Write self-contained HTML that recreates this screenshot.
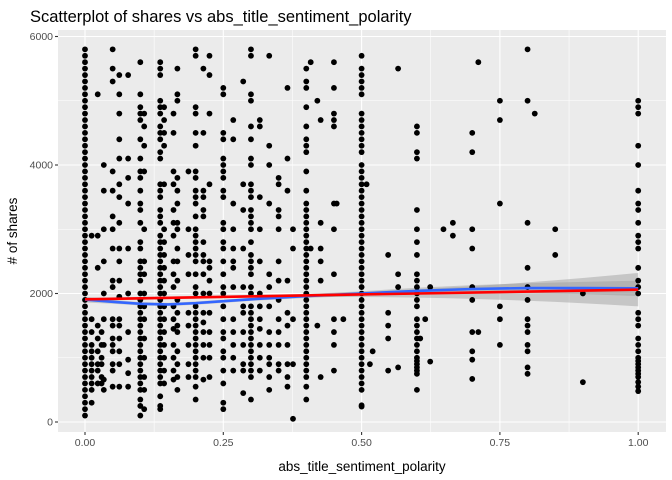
<!DOCTYPE html>
<html><head><meta charset="utf-8"><style>
body{margin:0;background:#fff;width:672px;height:480px;overflow:hidden}
svg{display:block;font-family:"Liberation Sans",Arial,sans-serif}
</style></head><body>
<svg id="chart" width="672" height="480">
<text x="30" y="22" font-size="16.5" fill="#000">Scatterplot of shares vs abs_title_sentiment_polarity</text>
<rect x="58" y="30" width="608" height="402" fill="#ebebeb"/>
<g id="grid"></g>
<g id="ribbons"></g>
<g id="points"></g>
<g id="lines"></g>
<g id="axes"></g>
<text x="362" y="471" font-size="13.5" text-anchor="middle" fill="#000">abs_title_sentiment_polarity</text>
<text transform="translate(17,231) rotate(-90)" font-size="13.5" text-anchor="middle" fill="#000"># of shares</text>
</svg>
<script>
const xTicks=[0,0.25,0.5,0.75,1];
const xTickLabels=["0.00","0.25","0.50","0.75","1.00"];
const yTicks=[0,2000,4000,6000];
const yTickLabels=["0","2000","4000","6000"];
const polarityCols=[0,0.012,0.023,0.03,0.034,0.05,0.062,0.078,0.1,0.107,0.136,0.143,0.16,0.167,0.187,0.2,0.214,0.225,0.25,0.268,0.286,0.3,0.316,0.333,0.35,0.366,0.376,0.4,0.408,0.42,0.426,0.45,0.455,0.467,0.5,0.509,0.515,0.52,0.548,0.566,0.6,0.606,0.615,0.624,0.648,0.665,0.7,0.711,0.75,0.8,0.813,0.85,0.9,1.0];
const sharesHundreds=[
[1,2,3,4,5,6,7,8,9,10,11,12,13,14,15,16,17,18,19,20,21,22,23,24,25,26,27,28,29,30,31,32,33,34,35,36,37,38,39,40,41,42,43,44,45,46,47,48,49,50,51,52,53,54,55,56,57,58],
[3,5,6,7,8,9,10,11,12,14,16,29],
[51,29,24,15,13,11,9,8,6],
[6,7,9,10,12,14],
[40,36,30,25,20,16,12,6.6,5],
[58,55,53,39,36,32,30,27,22,21,16,15,13,12,11,9,8,5.5],
[54,51,48,44,41,37,35,31,27,25,22,19.5,16,15,13,11,9,5.5],
[54,41,38,34,27,20,14,9.7,7.6,5.5],
[56,51,49,48,47,44,41,39,38,36,34,33,31,28,27,25,24,23,22,20,19,18,17,16,15,14,13,12,11,10,9,8,7,6,5,3.5,2.5,1],
[48,46,43,39,30,25,23,20,18,16,13,10,7,5,2],
[56,55,54,50,49,48,46,45,44,42,41,37,36,35,33,32,31,29,28,27,26,25,24,23,22,21,20,19,18,17,16,15,14,13,12,11,10,9,8,7,6,4,2.5,2],
[49,47,45,43,37,30,28,26,24,22,20,18,16,14,12,10,8,6],
[48,45,39,37,33,31,29,25,23,21,18,16,14.5,12,10,8,6.6],
[55,51,50,38,36,34,31,30,27,25,22,19,17,15,14,11,9,7,5],
[39,30,26,23,17,15,12,9,7],
[58,57,49,48,45,43,39,38,36,35,34,32,30,29,28,27,26,25,23,21,20,18,17,16,15,14,13,12,11,10,9,8,7,5.5,3.5],
[55,45,36,35,33,32,28,26,25,23,20,17,15.5,14,12,10,6.6],
[57,54,48,37,25,24,22,20,17,14,12,10,7],
[52,51,45,44,41,40,39,38,36,35,31,30,28,27,25,23,21,20,18,16,14,13,11,10,8,6,3,2],
[47,44,34,30,27,25,24,21,16,14,12,10,8],
[53,37,33,27,21,18,17,14,12,9,8,4.5],
[58,57,51,50,46,44,41,40,37,36,35,33,32,31,30,28,26,25,24,23,21,20,18,17,16,15,14,13,12,11,10,9,8,7,3.5],
[47,46,35,30,25,20,18,16,14.5,12,10,8],
[57,43,40,34,23,21,18,14,12,10,9,7,5],
[38,37,33,32,30,25,22,19,16,14,12,9,8],
[52,41,36,22,17,15,12,9,7,5.5],
[30,27,16,9,0.5],
[55,53,52,49,46,44,43,42,39,36,34,33,32,31,30,29,28,27,26,25,24,23,22,21,20,19,18,17,16,15,14,13,12,11,10,9,8,7,5.5,3.5],
[56,27],
[50,15],
[47,31,27,25,22,7],
[56,52,48,47,46,34,30,23,16,14,12,8],
[34],
[16],
[57,55,54,53,52,51,48,47,46,45,44,43,42,40,39,38,37,36,35,34,33,32,31,30,29,28,27,26,25,24,23,22,21,20,19,18,17,16,15,14,13,12,11,10,9,8,7,6,5,2.6,2.4],
[37],
[9],
[11],
[26,17,15,13,8],
[55,23,21,8.5],
[46,45,42,41,33,30,28,26,23,22,21,20,19,18,16,15,14,13,12,11,10,9.5,9,8.5,8,7.5,5],
[13],
[16],
[21,9.4],
[30],
[31,29],
[45,42,30,27,21,19,14,11,9.7,6.7],
[56,14],
[50,47,34,18,16,12],
[58,50,31,24,21,19,16,15,14,12,11,8.5,7.5],
[48],
[30,26],
[20,6.2],
[50,49,48,43,40,36,34,33,31,29,28,27,24,22,21,20,17,16,15,13,12,11,10,9.5,9,8.5,8,7.5,7,6.2,5.5,4.8]
];
const linearFit=[[0,1910],[1,2060]];
const loessX=[0,0.05,0.1,0.15,0.2,0.25,0.3,0.4,0.5,0.6,0.7,0.8,0.9,1];
const loessY=[1905,1870,1840,1830,1850,1880,1910,1960,2000,2040,2070,2085,2085,2080];
const loessSE=[45,30,25,25,25,25,25,30,35,50,60,75,95,120];
const linSE=[20,260];

const NS="http://www.w3.org/2000/svg";
const L=58,R=666,T=30,B=432;
const sx=v=>85+v*553.2;
const sy=v=>422-v*0.06425;
function mk(tag,attrs,parent){const e=document.createElementNS(NS,tag);for(const k in attrs)e.setAttribute(k,attrs[k]);parent.appendChild(e);return e;}
const grid=document.getElementById('grid');
for(let i=0;i<xTicks.length-1;i++){const m=(xTicks[i]+xTicks[i+1])/2;const g=mk('line',{x1:sx(m),x2:sx(m),y1:T,y2:B,stroke:'#fff','stroke-width':0.55},grid);}
for(let i=0;i<yTicks.length-1;i++){const m=(yTicks[i]+yTicks[i+1])/2;const g=mk('line',{x1:L,x2:R,y1:sy(m),y2:sy(m),stroke:'#fff','stroke-width':0.55},grid);}
const axes=document.getElementById('axes');
xTicks.forEach((t,i)=>{
 const g=mk('line',{x1:sx(t),x2:sx(t),y1:T,y2:B,stroke:'#fff','stroke-width':1.1},grid);
 
 
 const tk=mk('line',{x1:sx(t),x2:sx(t),y1:B,y2:B+3,stroke:'#333','stroke-width':1.1},axes);
 
 
 const tx=mk('text',{x:sx(t),y:B+14,'font-size':10.5,'text-anchor':'middle',fill:'#4d4d4d'},axes);
 tx.textContent=xTickLabels[i];
 
 
});
yTicks.forEach((t,i)=>{
 const g=mk('line',{x1:L,x2:R,y1:sy(t),y2:sy(t),stroke:'#fff','stroke-width':1.1},grid);
 
 
 const tk=mk('line',{x1:L-3,x2:L,y1:sy(t),y2:sy(t),stroke:'#333','stroke-width':1.1},axes);
 
 
 const tx=mk('text',{x:L-5,y:sy(t)+3.7,'font-size':10.5,'text-anchor':'end',fill:'#4d4d4d'},axes);
 tx.textContent=yTickLabels[i];
 
 
});
const pts=document.getElementById('points');
polarityCols.forEach((x,i)=>{
 sharesHundreds[i].forEach(h=>{
  const c=mk('circle',{cx:sx(x),cy:sy(h*100),r:2.9,fill:'#000'},pts);
  
  
 });
});
const rib=document.getElementById('ribbons');
const linAt=x=>linearFit[0][1]+(linearFit[1][1]-linearFit[0][1])*x;
let up=[],dn=[];
for(let k=0;k<=20;k++){const x=k/20;const se=linSE[0]+(linSE[1]-linSE[0])*Math.pow(Math.abs(x-0.3)/0.7,2)*(x>0.3?1:0.1);up.push(sx(x)+','+sy(linAt(x)+se));dn.unshift(sx(x)+','+sy(linAt(x)-se));}
const r1=mk('polygon',{points:up.concat(dn).join(' '),fill:'#999','fill-opacity':0.45},rib);


up=[];dn=[];
loessX.forEach((x,i)=>{up.push(sx(x)+','+sy(loessY[i]+loessSE[i]));dn.unshift(sx(x)+','+sy(loessY[i]-loessSE[i]));});
const r2=mk('polygon',{points:up.concat(dn).join(' '),fill:'#999','fill-opacity':0.45},rib);


const lines=document.getElementById('lines');
const bl=mk('polyline',{points:loessX.map((x,i)=>sx(x)+','+sy(loessY[i])).join(' '),fill:'none',stroke:'#3366ff','stroke-width':2.6},lines);


const rl=mk('line',{x1:sx(linearFit[0][0]),y1:sy(linearFit[0][1]),x2:sx(linearFit[1][0]),y2:sy(linearFit[1][1]),stroke:'#ff0000','stroke-width':2.6},lines);


</script>
</body></html>
